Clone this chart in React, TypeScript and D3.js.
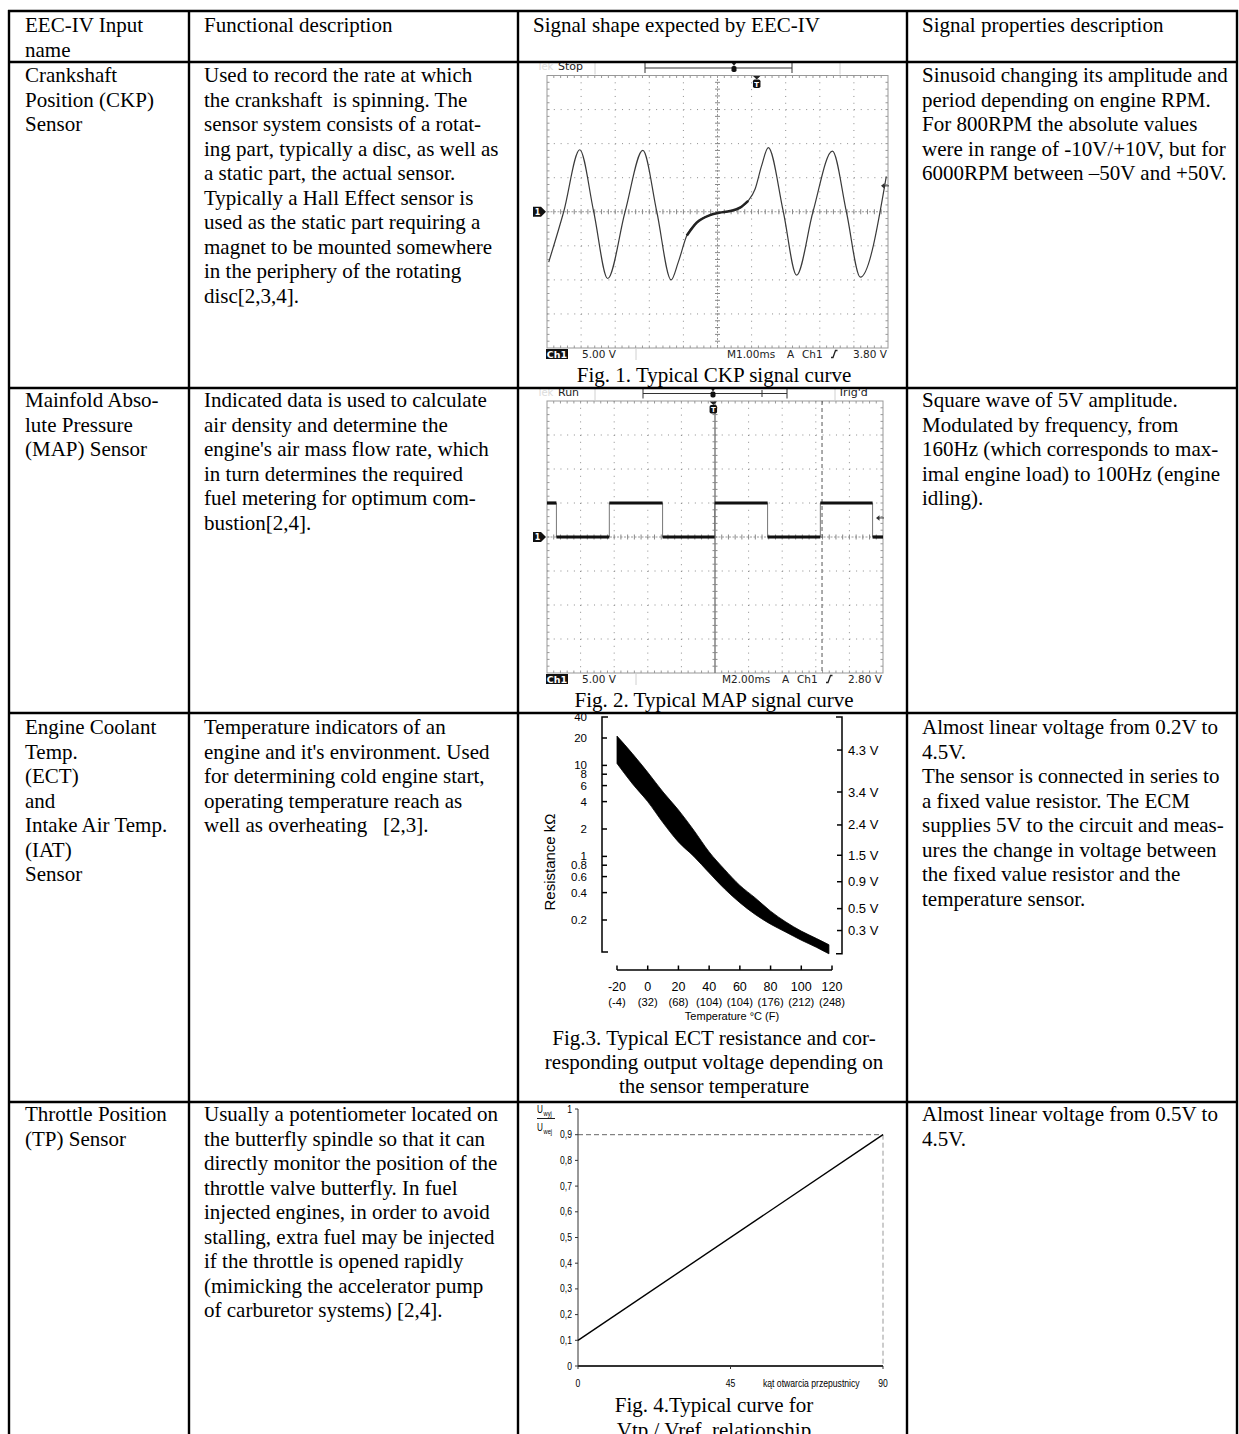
import React from 'react';
import * as d3 from 'd3';

const SERIF = "'Liberation Serif','Times New Roman',Times,serif";
const SANS = "'Liberation Sans',Arial,Helvetica,sans-serif";
const SCOPE = "'DejaVu Sans','Liberation Sans',sans-serif";

// ---------------- table text ----------------
const headerInputName = ['EEC-IV Input', 'name'];
const headerFunctional = ['Functional description'];
const headerSignalShape = ['Signal shape expected by EEC-IV'];
const headerProperties = ['Signal properties description'];

const ckpName = ['Crankshaft', 'Position (CKP)', 'Sensor'];
const ckpFunction = [
  'Used to record the rate at which',
  'the crankshaft  is spinning. The',
  'sensor system consists of a rotat-',
  'ing part, typically a disc, as well as',
  'a static part, the actual sensor.',
  'Typically a Hall Effect sensor is',
  'used as the static part requiring a',
  'magnet to be mounted somewhere',
  'in the periphery of the rotating',
  'disc[2,3,4].',
];
const ckpProperties = [
  'Sinusoid changing its amplitude and',
  'period depending on engine RPM.',
  'For 800RPM the absolute values',
  'were in range of -10V/+10V, but for',
  '6000RPM between \u201350V and +50V.',
];
const ckpCaption = ['Fig. 1. Typical CKP signal curve'];

const mapName = ['Mainfold Abso-', 'lute Pressure', '(MAP) Sensor'];
const mapFunction = [
  'Indicated data is used to calculate',
  'air density and determine the',
  "engine's air mass flow rate, which",
  'in turn determines the required',
  'fuel metering for optimum com-',
  'bustion[2,4].',
];
const mapProperties = [
  'Square wave of 5V amplitude.',
  'Modulated by frequency, from',
  '160Hz (which corresponds to max-',
  'imal engine load) to 100Hz (engine',
  'idling).',
];
const mapCaption = ['Fig. 2. Typical MAP signal curve'];

const ectName = ['Engine Coolant', 'Temp.', '(ECT)', 'and', 'Intake Air Temp.', '(IAT)', 'Sensor'];
const ectFunction = [
  'Temperature indicators of an',
  "engine and it's environment. Used",
  'for determining cold engine start,',
  'operating temperature reach as',
  'well as overheating   [2,3].',
];
const ectProperties = [
  'Almost linear voltage from 0.2V to',
  '4.5V.',
  'The sensor is connected in series to',
  'a fixed value resistor. The ECM',
  'supplies 5V to the circuit and meas-',
  'ures the change in voltage between',
  'the fixed value resistor and the',
  'temperature sensor.',
];
const ectCaption = [
  'Fig.3. Typical ECT resistance and cor-',
  'responding output voltage depending on',
  'the sensor temperature',
];

const tpName = ['Throttle Position', '(TP) Sensor'];
const tpFunction = [
  'Usually a potentiometer located on',
  'the butterfly spindle so that it can',
  'directly monitor the position of the',
  'throttle valve butterfly. In fuel',
  'injected engines, in order to avoid',
  'stalling, extra fuel may be injected',
  'if the throttle is opened rapidly',
  '(mimicking the accelerator pump',
  'of carburetor systems) [2,4].',
];
const tpProperties = ['Almost linear voltage from 0.5V to', '4.5V.'];
const tpCaption = ['Fig. 4.Typical curve for', 'Vtp / Vref  relationship'];

// ---------------- Fig 1: CKP scope trace ----------------
const ckpTimeMs = [0.05, 0.49, 0.96, 1.37, 1.78, 2.29, 2.81, 3.22, 3.64, 3.85, 4.1, 4.39, 4.78, 5.05, 5.37, 5.66, 5.9, 6.1, 6.29, 6.49, 6.93, 7.32, 7.8, 8.37, 8.78, 9.19, 9.95];
const ckpVolt = [-7.4, 0, 9.1, 0, -9.8, 0, 9.0, 0, -10.0, -7.4, -3.5, -1.6, -0.5, -0.15, 0.1, 0.6, 1.6, 3.3, 6.7, 9.4, 0, -9.3, 0, 8.9, 0, -9.6, 5.2];
const ckpSlowSpanMs = [4.1, 5.95];
const ckpScopeLabels = ['Stop', '5.00 V', 'M1.00ms', '3.80 V'];
const ckpTrigLevelV = 3.8;
const ckpTriggerMs = 6.15;

// ---------------- Fig 2: MAP scope trace ----------------
const mapEdgeMs = [0, 0.56, 3.71, 6.88, 9.98, 13.13, 16.27, 19.38, 20];
const mapLevelV = [5, 0, 5, 0, 5, 0, 5, 0];
const mapScopeLabels = ['Run', '5.00 V', 'M2.00ms', '2.80 V', "Trig'd"];
const mapTrigLevelV = 2.8;
const mapTriggerMs = 9.9;
const mapCursorMs = 16.37;

// ---------------- Fig 3: ECT resistance band ----------------
const ectTempC = [-20, -10, 0, 10, 20, 30, 40, 50, 60, 70, 80, 90, 100, 110, 118];
const ectRmaxK = [21, 13.5, 8.4, 5.1, 3.24, 1.94, 1.12, 0.72, 0.48, 0.35, 0.25, 0.19, 0.151, 0.125, 0.107];
const ectRminK = [10.5, 6.3, 4.0, 2.34, 1.44, 1.0, 0.66, 0.44, 0.31, 0.23, 0.18, 0.147, 0.12, 0.1, 0.085];
const ectResTicks = [40, 20, 10, 8, 6, 4, 2, 1, 0.8, 0.6, 0.4, 0.2];
const ectResTickLabels = ['40', '20', '10', '8', '6', '4', '2', '1', '0.8', '0.6', '0.4', '0.2'];
const ectAxisSpanK = [0.089, 34];
const ectVoltTicks = [4.3, 3.4, 2.4, 1.5, 0.9, 0.5, 0.3];
const ectFixedResistorK = 2.4;
const ectSupplyV = 5;
const ectTempTicks = [-20, 0, 20, 40, 60, 80, 100, 120];
const ectTempFLabels = ['(-4)', '(32)', '(68)', '(104)', '(104)', '(176)', '(212)', '(248)'];

// ---------------- Fig 4: TP ratio ----------------
const tpAngleDeg = [0, 90];
const tpRatio = [0.1, 0.9];
const tpYTicks = [0, 0.1, 0.2, 0.3, 0.4, 0.5, 0.6, 0.7, 0.8, 0.9, 1];
const tpYTickLabels = ['0', '0,1', '0,2', '0,3', '0,4', '0,5', '0,6', '0,7', '0,8', '0,9', '1'];
const tpXTicks = [0, 45, 90];
const tpXTickLabels = ['0', '45', '90'];

// ---------------- layout ----------------
const colX = [9, 189, 518, 907, 1237];
const rowY = [11, 62, 388, 713, 1102];
const firstBaseline = [32, 82, 407, 734, 1121];
const LH = 24.5;

function Lines({ x, y, lines, anchor = 'start', lh = LH }: any) {
  return (
    <text x={x} y={y} fontFamily={SERIF} fontSize={21} textAnchor={anchor} fill="#000" xmlSpace="preserve" style={{ whiteSpace: 'pre' }}>
      {lines.map((l: string, i: number) => (
        <tspan key={i} x={x} y={y + i * lh}>{l}</tspan>
      ))}
    </text>
  );
}

function TMark({ x, y, big }: any) {
  const w = big ? 7.5 : 5;
  const h = big ? 8.5 : 6;
  return (
    <g>
      <path d={`M${x - w / 2},${y} L${x + w / 2},${y} L${x},${y + 3.5} Z`} fill="#222" />
      <rect x={x - w / 2} y={y + 3.5} width={w} height={h} rx={1.8} fill="#111" />
      {big && (
        <text x={x} y={y + 10.5} fontSize={7} fill="#fff" textAnchor="middle" fontFamily={SCOPE} fontWeight="bold">T</text>
      )}
    </g>
  );
}

function Scope(p: any) {
  const { x0, x1, y0, y1, tMax, labels, trigLevelV, triggerMs, bracket, solidCenter, cursorMs, trace } = p;
  const gx = d3.scaleLinear().domain([0, 10]).range([x0, x1]);
  const gy = d3.scaleLinear().domain([0, 8]).range([y0, y1]);
  const tx = d3.scaleLinear().domain([0, tMax]).range([x0, x1]);
  const vy = d3.scaleLinear().domain([-20, 20]).range([y1, y0]);
  const mx = (x1 - x0) / 50;
  const my = (y1 - y0) / 40;
  const cx = gx(5);
  const cy = gy(4);
  const els: any[] = [];
  d3.range(1, 10).forEach((i) => {
    if (i === 5) return;
    els.push(<line key={'v' + i} x1={gx(i)} x2={gx(i)} y1={y0} y2={y1} stroke="#8c8c8c" strokeDasharray={`1 ${my - 1}`} />);
  });
  d3.range(1, 8).forEach((j) => {
    if (j === 4) return;
    els.push(<line key={'h' + j} x1={x0} x2={x1} y1={gy(j)} y2={gy(j)} stroke="#8c8c8c" strokeDasharray={`1 ${mx - 1}`} />);
  });
  els.push(<line key="ch" x1={x0} x2={x1} y1={cy} y2={cy} stroke="#9a9a9a" strokeDasharray="2 1.5" />);
  els.push(
    solidCenter ? (
      <line key="cv" x1={cx} x2={cx} y1={y0} y2={y1} stroke="#555" strokeWidth={1.1} />
    ) : (
      <line key="cv" x1={cx} x2={cx} y1={y0} y2={y1} stroke="#9a9a9a" strokeDasharray="2 1.5" />
    )
  );
  d3.range(1, 50).forEach((k) => {
    const x = x0 + k * mx;
    els.push(<line key={'tcx' + k} x1={x} x2={x} y1={cy - 2.5} y2={cy + 2.5} stroke="#888" />);
    els.push(<line key={'tbt' + k} x1={x} x2={x} y1={y0} y2={y0 + 2.5} stroke="#999" />);
    els.push(<line key={'tbb' + k} x1={x} x2={x} y1={y1} y2={y1 - 2.5} stroke="#999" />);
  });
  d3.range(1, 40).forEach((k) => {
    const y = y0 + k * my;
    els.push(<line key={'tcy' + k} x1={cx - 2.5} x2={cx + 2.5} y1={y} y2={y} stroke="#888" />);
    els.push(<line key={'tbl' + k} x1={x0} x2={x0 + 2.5} y1={y} y2={y} stroke="#999" />);
    els.push(<line key={'tbr' + k} x1={x1} x2={x1 - 2.5} y1={y} y2={y} stroke="#999" />);
  });
  const g0 = vy(0);
  const tl = vy(trigLevelV);
  const by = y1 + 9.5;
  return (
    <g>
      <rect x={x0} y={y0} width={x1 - x0} height={y1 - y0} fill="#fff" stroke="#999" />
      {els}
      {cursorMs !== undefined && (
        <line x1={tx(cursorMs)} x2={tx(cursorMs)} y1={y0} y2={y1} stroke="#555" strokeDasharray="4 3" />
      )}
      {trace(tx, vy)}
      <text x={x0 - 10} y={y0 - 5.5} fontSize={10} fill="#dcdcdc" fontFamily={SCOPE}>Tek</text>
      <text x={x0 + 11} y={y0 - 5.5} fontSize={11} fill="#222" fontFamily={SCOPE}>{labels[0]}</text>
      <line x1={x0 + 48} x2={x0 + 48} y1={y0 - 14} y2={y0 - 1} stroke="#d0d0d0" />
      <line x1={bracket[0]} x2={bracket[0]} y1={y0 - 13} y2={y0 - 2.5} stroke="#333" />
      <line x1={bracket[1]} x2={bracket[1]} y1={y0 - 13} y2={y0 - 2.5} stroke="#333" />
      <line x1={bracket[0]} x2={bracket[1]} y1={y0 - 7.5} y2={y0 - 7.5} stroke="#333" />
      {bracket[3] !== undefined && (
        <line x1={bracket[3]} x2={bracket[3]} y1={y0 - 11} y2={y0 - 4} stroke="#333" />
      )}
      <TMark x={bracket[2]} y={y0 - 13} />
      {labels[4] ? (
        <g>
          <line x1={x1 - 48} x2={x1 - 48} y1={y0 - 14} y2={y0 - 1} stroke="#d0d0d0" />
          <text x={x1 - 45} y={y0 - 5.5} fontSize={11} fill="#222" fontFamily={SCOPE}>{labels[4]}</text>
        </g>
      ) : (
        <line x1={x1 - 48} x2={x1 - 48} y1={y0 - 14} y2={y0 - 1} stroke="#d0d0d0" />
      )}
      <TMark x={tx(triggerMs)} y={y0 + 0.5} big />
      <path d={`M${x0 - 14},${g0 - 5} H${x0 - 6} L${x0 - 1},${g0} L${x0 - 6},${g0 + 5} H${x0 - 14} Z`} fill="#111" />
      <text x={x0 - 9.5} y={g0 + 3.2} fontSize={8} fill="#fff" fontWeight="bold" textAnchor="middle" fontFamily={SCOPE}>1</text>
      <line x1={x1 - 6} x2={x1 + 1} y1={tl} y2={tl} stroke="#333" />
      <path d={`M${x1 - 7},${tl} l3.5,-2.8 v5.6 z`} fill="#333" />
      <rect x={x0 - 1} y={y1 + 1} width={22} height={10} fill="#111" />
      <text x={x0 + 10} y={by} fontSize={9.5} fill="#fff" fontWeight="bold" textAnchor="middle" fontFamily={SCOPE}>Ch1</text>
      <text x={x0 + 35} y={by} fontSize={10.5} fill="#222" fontFamily={SCOPE}>{labels[1]}</text>
      <line x1={x0 + 89} x2={x0 + 89} y1={y1 + 1} y2={y1 + 12} stroke="#d0d0d0" />
      <text x={x1 - 161} y={by} fontSize={10.5} fill="#222" fontFamily={SCOPE}>{labels[2]}</text>
      <text x={x1 - 101} y={by} fontSize={10.5} fill="#222" fontFamily={SCOPE}>A</text>
      <text x={x1 - 86} y={by} fontSize={10.5} fill="#222" fontFamily={SCOPE}>Ch1</text>
      <path d={`M${x1 - 57},${by} h2 l2.5,-7 h2`} stroke="#222" strokeWidth={1.3} fill="none" />
      <text x={x1 - 1} y={by} fontSize={10.5} fill="#222" textAnchor="end" fontFamily={SCOPE}>{labels[3]}</text>
    </g>
  );
}

function CkpTrace(tx: any, vy: any) {
  const pts = ckpTimeMs.map((t, i) => [t, ckpVolt[i]] as [number, number]);
  const line = d3.line<[number, number]>().x((d) => tx(d[0])).y((d) => vy(d[1])).curve(d3.curveMonotoneX);
  const slow = pts.filter((d) => d[0] >= ckpSlowSpanMs[0] && d[0] <= ckpSlowSpanMs[1]);
  return (
    <g>
      <path d={line(pts) || ''} fill="none" stroke="#3a3a3a" strokeWidth={1.2} />
      <path d={line(slow) || ''} fill="none" stroke="#222" strokeWidth={2.6} />
    </g>
  );
}

function MapTrace(tx: any, vy: any) {
  const stepPts: [number, number][] = [];
  mapLevelV.forEach((v, i) => {
    stepPts.push([mapEdgeMs[i], v]);
    stepPts.push([mapEdgeMs[i + 1], v]);
  });
  const line = d3.line<[number, number]>().x((d) => tx(d[0])).y((d) => vy(d[1]));
  return (
    <g>
      <path d={line(stepPts) || ''} fill="none" stroke="#777" strokeWidth={1} />
      {mapLevelV.map((v, i) => (
        <path
          key={i}
          d={line([[mapEdgeMs[i], v], [mapEdgeMs[i + 1], v]]) || ''}
          fill="none"
          stroke="#111"
          strokeWidth={3.2}
        />
      ))}
    </g>
  );
}

function EctChart() {
  const ex = d3.scaleLinear().domain([-20, 120]).range([617, 832]);
  const ey = d3.scaleLog().domain([0.2, 20]).range([920, 738]);
  const axL = 602;
  const axR = 842;
  const yTop = ey(ectAxisSpanK[1]);
  const yBot = ey(ectAxisSpanK[0]);
  const xAxisY = 970;
  const band = d3
    .area<number>()
    .x((_, i) => ex(ectTempC[i]))
    .y0((_, i) => ey(ectRminK[i]))
    .y1((_, i) => ey(ectRmaxK[i]))
    .curve(d3.curveMonotoneX);
  const voltToR = (v: number) => (ectFixedResistorK * v) / (ectSupplyV - v);
  return (
    <g fontFamily={SANS} fill="#000">
      <path d={band(ectTempC) || ''} fill="#000" stroke="#000" strokeWidth={0.8} />
      <path d={`M${axL + 6},${yTop} H${axL} V${yBot} H${axL + 6}`} fill="none" stroke="#000" strokeWidth={1.5} />
      {ectResTicks.map((v, i) => {
        const y = Math.max(ey(v), yTop);
        return (
          <g key={i}>
            {v <= 20 && <line x1={axL} x2={axL + 5} y1={y} y2={y} stroke="#000" strokeWidth={1.5} />}
            <text x={587} y={y + 4} fontSize={11.5} textAnchor="end">{ectResTickLabels[i]}</text>
          </g>
        );
      })}
      <text transform={`translate(555,862) rotate(-90)`} fontSize={15} textAnchor="middle">Resistance k{'\u03A9'}</text>
      <path d={`M${axR - 6},${yTop} H${axR} V${ey(0.085)} H${axR - 6}`} fill="none" stroke="#000" strokeWidth={1.5} />
      {ectVoltTicks.map((v, i) => {
        const y = ey(voltToR(v));
        return (
          <g key={i}>
            <line x1={axR - 5} x2={axR} y1={y} y2={y} stroke="#000" strokeWidth={1.5} />
            <text x={848} y={y + 4.5} fontSize={13}>{`${v} V`}</text>
          </g>
        );
      })}
      <line x1={ex(-20)} x2={ex(120)} y1={xAxisY} y2={xAxisY} stroke="#000" strokeWidth={1.5} />
      {ectTempTicks.map((t, i) => (
        <g key={i}>
          <line x1={ex(t)} x2={ex(t)} y1={xAxisY} y2={xAxisY - 4.5} stroke="#000" strokeWidth={1.5} />
          <text x={ex(t)} y={991} fontSize={12.5} textAnchor="middle">{t}</text>
          <text x={ex(t)} y={1006} fontSize={11.2} textAnchor="middle">{ectTempFLabels[i]}</text>
        </g>
      ))}
      <text x={732} y={1020} fontSize={11} textAnchor="middle">Temperature {'\u00B0'}C (F)</text>
    </g>
  );
}

function Narrow({ x, y, children, size = 10.5, anchor = 'start' }: any) {
  return (
    <text transform={`translate(${x},${y}) scale(0.82,1)`} fontSize={size} textAnchor={anchor} fontFamily={SANS} fill="#000">
      {children}
    </text>
  );
}

function TpChart() {
  const x = d3.scaleLinear().domain([0, 90]).range([578, 883]);
  const y = d3.scaleLinear().domain([0, 1]).range([1366, 1109]);
  const line = d3.line<number>().x((d) => x(d)).y((_, i) => y(tpRatio[i]));
  const xEnd = x(tpAngleDeg[1]);
  const yEnd = y(tpRatio[1]);
  return (
    <g>
      <line x1={x(0)} x2={xEnd} y1={yEnd} y2={yEnd} stroke="#666" strokeDasharray="5 3" />
      <line x1={xEnd} x2={xEnd} y1={yEnd} y2={y(0)} stroke="#999" strokeDasharray="5 3" />
      <line x1={x(0)} x2={x(0)} y1={y(0)} y2={y(1)} stroke="#333" />
      {tpYTicks.map((v, i) => (
        <g key={i}>
          <line x1={x(0) - 3} x2={x(0)} y1={y(v)} y2={y(v)} stroke="#333" />
          <Narrow x={572} y={y(v) + 3.5} anchor="end">{tpYTickLabels[i]}</Narrow>
        </g>
      ))}
      <line x1={x(0)} x2={x(90)} y1={y(0)} y2={y(0)} stroke="#333" strokeWidth={2} />
      {tpXTicks.map((v, i) => (
        <g key={i}>
          <line x1={x(v)} x2={x(v)} y1={y(0)} y2={y(0) + 3} stroke="#333" />
          <Narrow x={x(v)} y={1387} anchor="middle">{tpXTickLabels[i]}</Narrow>
        </g>
      ))}
      <Narrow x={763} y={1387}>kąt otwarcia przepustnicy</Narrow>
      <path d={line(tpAngleDeg) || ''} fill="none" stroke="#000" strokeWidth={1.4} />
      <Narrow x={537} y={1113} size={10}>U</Narrow>
      <Narrow x={543.5} y={1116} size={7}>wyj</Narrow>
      <line x1={537} x2={555} y1={1118.5} y2={1118.5} stroke="#000" strokeWidth={0.9} />
      <Narrow x={537} y={1131} size={10}>U</Narrow>
      <Narrow x={543.5} y={1134} size={7}>wej</Narrow>
    </g>
  );
}

export default function App() {
  const capX = (colX[2] + colX[3]) / 2 + 1.5;
  const colText = [colX[0] + 16, colX[1] + 15, colX[2] + 15, colX[3] + 15];
  return (
    <svg width={1239} height={1434} viewBox="0 0 1239 1434" style={{ position: 'absolute', left: 0, top: 0, background: '#fff' }}>
      <rect x={0} y={0} width={1239} height={1434} fill="#fff" />
      <Lines x={colText[0]} y={firstBaseline[0]} lines={headerInputName} />
      <Lines x={colText[1]} y={firstBaseline[0]} lines={headerFunctional} />
      <Lines x={colText[2]} y={firstBaseline[0]} lines={headerSignalShape} />
      <Lines x={colText[3]} y={firstBaseline[0]} lines={headerProperties} />
      <Lines x={colText[0]} y={firstBaseline[1]} lines={ckpName} />
      <Lines x={colText[1]} y={firstBaseline[1]} lines={ckpFunction} />
      <Lines x={colText[3]} y={firstBaseline[1]} lines={ckpProperties} />
      <Lines x={colText[0]} y={firstBaseline[2]} lines={mapName} />
      <Lines x={colText[1]} y={firstBaseline[2]} lines={mapFunction} />
      <Lines x={colText[3]} y={firstBaseline[2]} lines={mapProperties} />
      <Lines x={colText[0]} y={firstBaseline[3]} lines={ectName} />
      <Lines x={colText[1]} y={firstBaseline[3]} lines={ectFunction} />
      <Lines x={colText[3]} y={firstBaseline[3]} lines={ectProperties} />
      <Lines x={colText[0]} y={firstBaseline[4]} lines={tpName} />
      <Lines x={colText[1]} y={firstBaseline[4]} lines={tpFunction} />
      <Lines x={colText[3]} y={firstBaseline[4]} lines={tpProperties} />

      <Scope
        x0={547} x1={888} y0={75.5} y1={348} tMax={10}
        labels={ckpScopeLabels} trigLevelV={ckpTrigLevelV} triggerMs={ckpTriggerMs}
        bracket={[645, 792, 734]} trace={CkpTrace}
      />
      <Lines x={capX} y={382} lines={ckpCaption} anchor="middle" />

      <Scope
        x0={547} x1={883} y0={401} y1={673} tMax={20}
        labels={mapScopeLabels} trigLevelV={mapTrigLevelV} triggerMs={mapTriggerMs}
        bracket={[643, 787, 713, 762]} solidCenter cursorMs={mapCursorMs} trace={MapTrace}
      />
      <Lines x={capX} y={707} lines={mapCaption} anchor="middle" />

      <EctChart />
      <Lines x={capX} y={1045} lines={ectCaption} anchor="middle" lh={24} />

      <TpChart />
      <Lines x={capX} y={1412} lines={tpCaption} anchor="middle" lh={24.5} />

      {rowY.map((y, i) => (
        <line key={'r' + i} x1={colX[0] - 1} x2={colX[4] + 1} y1={y} y2={y} stroke="#000" strokeWidth={2.4} />
      ))}
      {colX.map((x, i) => (
        <line key={'c' + i} x1={x} x2={x} y1={rowY[0] - 1} y2={1434} stroke="#000" strokeWidth={2.4} />
      ))}
    </svg>
  );
}
